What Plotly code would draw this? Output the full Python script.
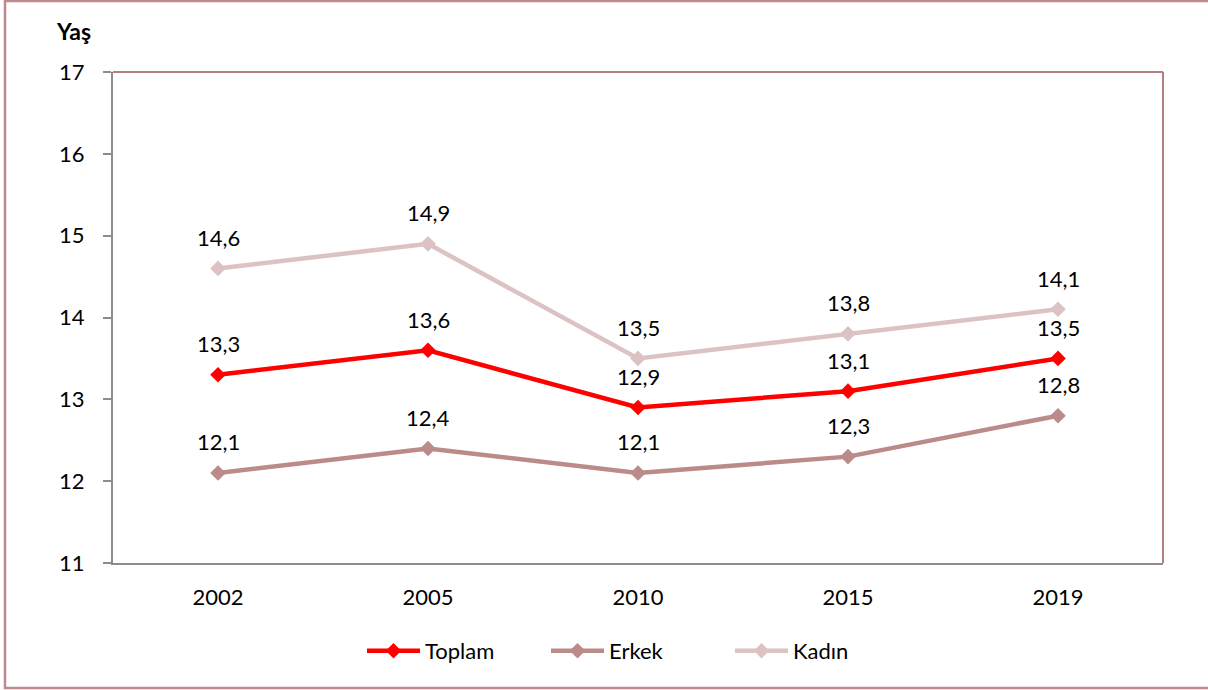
import plotly.graph_objects as go

# Ortalama yaş serileri
years = ["2002", "2005", "2010", "2015", "2019"]
toplam = [13.3, 13.6, 12.9, 13.1, 13.5]
erkek = [12.1, 12.4, 12.1, 12.3, 12.8]
kadin = [14.6, 14.9, 13.5, 13.8, 14.1]

y_ticks = [11, 12, 13, 14, 15, 16, 17]

series = [
    ("Toplam", toplam, "#FF0000"),
    ("Erkek", erkek, "#BA8B89"),
    ("Kadın", kadin, "#DCC2C2"),
]

FONT = "Lato, 'Open Sans', sans-serif"
FS = 22
W, H = 1208, 690
L, R, T, B = 113, 45, 72, 127

fig = go.Figure()
annotations = []
for name, vals, color in series:
    fig.add_trace(go.Scatter(
        x=years, y=vals, name=name, mode="lines+markers",
        line=dict(color=color, width=4.5),
        marker=dict(symbol="diamond", size=12, color=color),
    ))
    for i, v in enumerate(vals):
        annotations.append(dict(
            x=i, y=v, xref="x", yref="y",
            text=f"{v:.1f}".replace(".", ","),
            showarrow=False, yshift=31,
            font=dict(family=FONT, size=FS, color="#000000"),
        ))

pw = W - L - R
ph = H - T - B

def px_x(p):
    return (p - L) / pw

def px_y(p):
    return (H - B - p) / ph

annotations.append(dict(
    x=px_x(73), y=px_y(31), xref="paper", yref="paper",
    text="<b>Yaş</b>", showarrow=False,
    xanchor="center", yanchor="middle",
    font=dict(family=FONT, size=23, color="#000000"),
))

shapes = [
    # outer frame
    dict(type="rect", xref="paper", yref="paper",
         x0=px_x(5), x1=px_x(1216), y0=px_y(688), y1=px_y(1),
         line=dict(color="#C0898B", width=2.5), fillcolor="rgba(0,0,0,0)"),
    # top and right border of plot area
    dict(type="line", xref="paper", yref="paper", x0=0, x1=1, y0=1, y1=1,
         line=dict(color="#B57E80", width=2)),
    dict(type="line", xref="paper", yref="paper", x0=1, x1=1, y0=0, y1=1,
         line=dict(color="#B57E80", width=2)),
]

fig.update_layout(
    width=W, height=H,
    margin=dict(l=L, r=R, t=T, b=B),
    paper_bgcolor="white", plot_bgcolor="white",
    font=dict(family=FONT, size=FS, color="#000000"),
    showlegend=True,
    legend=dict(orientation="h", x=px_x(362), xanchor="left",
                y=px_y(651), yanchor="middle",
                font=dict(family=FONT, size=FS, color="#000000"),
                itemwidth=53,
                entrywidth=116, entrywidthmode="pixels",
                traceorder="normal"),
    annotations=annotations,
    shapes=shapes,
    xaxis=dict(
        type="category", range=[-0.5, 4.5],
        showline=True, linecolor="#8C8C8C", linewidth=2,
        ticks="", showgrid=False, zeroline=False,
        ticklabelstandoff=14,
    ),
    yaxis=dict(
        range=[11, 17], tickvals=y_ticks,
        showline=True, linecolor="#8C8C8C", linewidth=2,
        ticks="outside", ticklen=8, tickcolor="#8C8C8C", tickwidth=2,
        showgrid=False, zeroline=False,
        ticklabelstandoff=14,
    ),
)

fig.write_html("out.html")
